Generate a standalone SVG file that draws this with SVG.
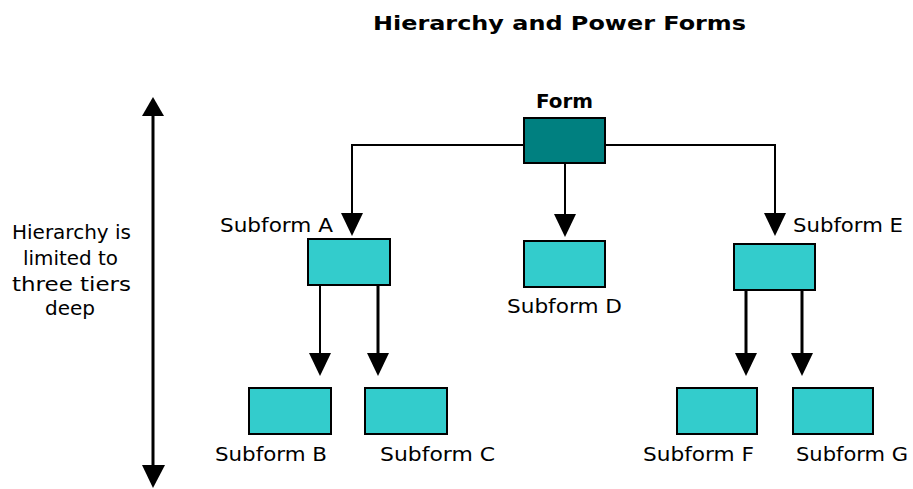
<svg xmlns="http://www.w3.org/2000/svg" xmlns:xlink="http://www.w3.org/1999/xlink" width="913" height="489" viewBox="0 0 913 489">
  <style>
    .lbl { font-family: "DejaVu Sans", Verdana, sans-serif; font-size: 20px; fill: #000; }
    .bold { font-weight: bold; }
    .form { fill: #008080; stroke: #000; stroke-width: 2; }
    .sub { fill: #33CCCC; stroke: #000; stroke-width: 2; }
    .wire { fill: none; stroke: #000; stroke-width: 2; }
    .wire3 { fill: none; stroke: #000; stroke-width: 3; }
  </style>
  <defs>
    <!-- downward arrowhead, tip at origin -->
    <path id="head" d="M -11 -23 L 11 -23 L 0 0 Z" fill="#000"/>
  </defs>

  <rect width="913" height="489" fill="#fff"/>

  <text class="lbl bold" x="373" y="30" font-size="23" textLength="373" lengthAdjust="spacingAndGlyphs">Hierarchy and Power Forms</text>

  <!-- tier scale on the left -->
  <g id="tier-scale">
    <line x1="153" y1="114" x2="153" y2="467" stroke="#000" stroke-width="3"/>
    <path d="M 153 97 L 164 116 L 142 116 Z" fill="#000"/>
    <path d="M 142 465 L 165 465 L 153 488 Z" fill="#000"/>
    <text class="lbl" x="12" y="239" font-size="21" textLength="119" lengthAdjust="spacingAndGlyphs">Hierarchy is</text>
    <text class="lbl" x="23" y="265" font-size="21" textLength="95" lengthAdjust="spacingAndGlyphs">limited to</text>
    <text class="lbl" x="12" y="291" font-size="21" textLength="119" lengthAdjust="spacingAndGlyphs">three tiers</text>
    <text class="lbl" x="70" y="315" font-size="21" text-anchor="middle">deep</text>
  </g>

  <!-- connectors -->
  <g id="connectors">
    <path class="wire" d="M 352 215 V 145 H 775 V 215"/>
    <line class="wire" x1="565" y1="163" x2="565" y2="215"/>
    <use xlink:href="#head" x="352" y="236"/>
    <use xlink:href="#head" x="565" y="237"/>
    <use xlink:href="#head" x="775" y="236"/>

    <line class="wire" x1="320" y1="286" x2="320" y2="358"/>
    <line class="wire3" x1="378" y1="286" x2="378" y2="358"/>
    <use xlink:href="#head" x="320" y="376"/>
    <use xlink:href="#head" x="378" y="376"/>

    <line class="wire3" x1="746" y1="290" x2="746" y2="358"/>
    <line class="wire3" x1="802" y1="290" x2="802" y2="358"/>
    <use xlink:href="#head" x="746" y="376"/>
    <use xlink:href="#head" x="802" y="376"/>
  </g>

  <g id="form">
    <rect class="form" x="524" y="118" width="81" height="45"/>
    <text class="lbl bold" x="536" y="108" textLength="57" lengthAdjust="spacingAndGlyphs">Form</text>
  </g>

  <g id="subform-a">
    <rect class="sub" x="308" y="239" width="82" height="46"/>
    <text class="lbl" x="220" y="232" textLength="113" lengthAdjust="spacingAndGlyphs">Subform A</text>
  </g>

  <g id="subform-d">
    <rect class="sub" x="524" y="241" width="81" height="46"/>
    <text class="lbl" x="507" y="313" textLength="115" lengthAdjust="spacingAndGlyphs">Subform D</text>
  </g>

  <g id="subform-e">
    <rect class="sub" x="734" y="244" width="81" height="46"/>
    <text class="lbl" x="793" y="232" textLength="110" lengthAdjust="spacingAndGlyphs">Subform E</text>
  </g>

  <g id="subform-b">
    <rect class="sub" x="249" y="388" width="82" height="46"/>
    <text class="lbl" x="215" y="461" textLength="112" lengthAdjust="spacingAndGlyphs">Subform B</text>
  </g>

  <g id="subform-c">
    <rect class="sub" x="365" y="388" width="82" height="46"/>
    <text class="lbl" x="380" y="461" textLength="115" lengthAdjust="spacingAndGlyphs">Subform C</text>
  </g>

  <g id="subform-f">
    <rect class="sub" x="677" y="388" width="80" height="46"/>
    <text class="lbl" x="643" y="461" textLength="111" lengthAdjust="spacingAndGlyphs">Subform F</text>
  </g>

  <g id="subform-g">
    <rect class="sub" x="793" y="388" width="80" height="46"/>
    <text class="lbl" x="796" y="461" textLength="112" lengthAdjust="spacingAndGlyphs">Subform G</text>
  </g>
</svg>
